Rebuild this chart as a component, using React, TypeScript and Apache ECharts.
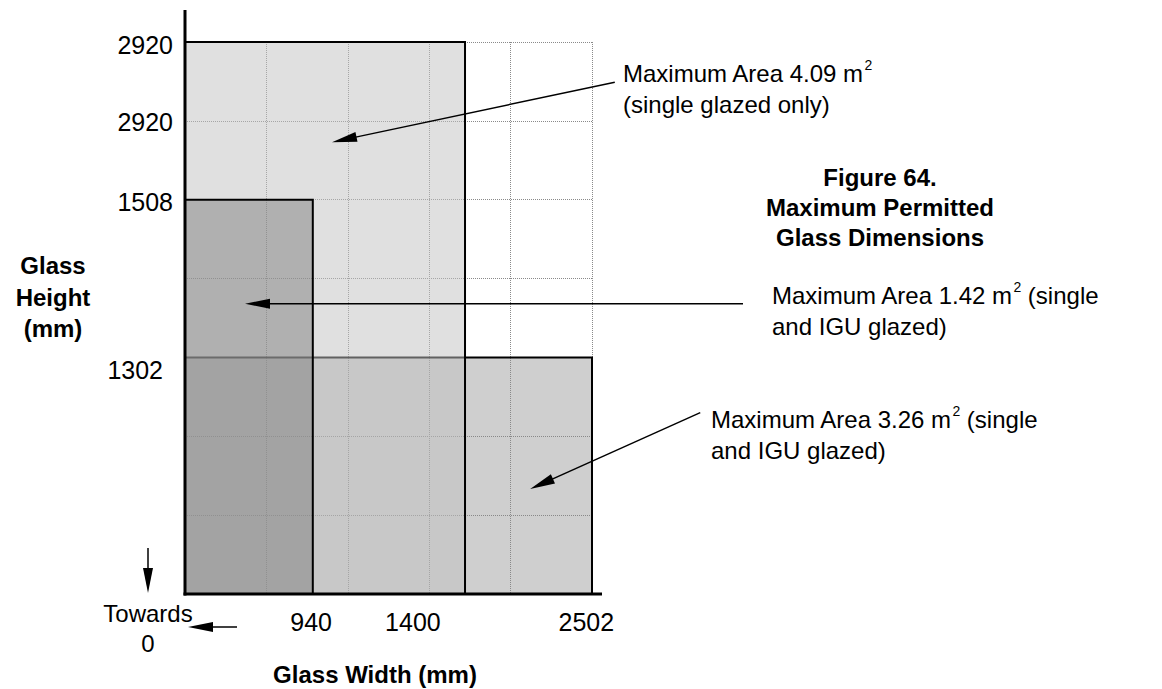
import React, { useEffect, useRef } from "react";
import * as echarts from "echarts";

// Schematic grid units (5 columns x 7 rows of the dotted grid)
const gridCols = 5;
const gridRows = 7;

// Width tick labels and their schematic positions
const widthLabels = ["940", "1400", "2502"];
const widthTickPos = [1.55, 2.8, 4.93];

// Height tick labels and their schematic positions
const heightLabels = ["2920", "2920", "1508", "1302"];
const heightTickPos = [6.96, 5.98, 4.97, 2.84];

// Rectangles (maximum areas), drawn in this order
const areaNames = ["Maximum Area 3.26 m²", "Maximum Area 4.09 m²", "Maximum Area 1.42 m²"];
const areaRight = [5, 3.44, 1.57];
const areaTop = [3, 7, 5];

const areaFills = ["rgba(135,135,135,0.4)", "rgba(193,193,193,0.5)", "rgba(119,119,119,0.458)"];

const FONT = "'Liberation Sans', Arial, sans-serif";

function nearestIdx(arr: number[], v: number) {
  let best = 0;
  for (let i = 1; i < arr.length; i++) if (Math.abs(arr[i] - v) < Math.abs(arr[best] - v)) best = i;
  return best;
}

function arrow(tail: number[], tip: number[], len = 25, hw = 5, lw = 1.5) {
  const dx = tip[0] - tail[0];
  const dy = tip[1] - tail[1];
  const L = Math.hypot(dx, dy);
  const ux = dx / L, uy = dy / L;
  const bx = tip[0] - ux * len, by = tip[1] - uy * len;
  const nx = -uy, ny = ux;
  return [
    { type: "line", z: 100, shape: { x1: tail[0], y1: tail[1], x2: bx + ux * 2, y2: by + uy * 2 }, style: { stroke: "#000", lineWidth: lw } },
    {
      type: "polygon",
      z: 100,
      shape: { points: [tip, [bx + nx * hw, by + ny * hw], [bx - nx * hw, by - ny * hw]] },
      style: { fill: "#000" },
    },
  ];
}

export default function App() {
  const ref = useRef<HTMLDivElement>(null);

  useEffect(() => {
    if (!ref.current) return;
    const chart = echarts.init(ref.current, null, { renderer: "svg" });
    const data = areaNames.map((n, i) => ({ name: n, value: [0, areaRight[i], 0, areaTop[i]] }));
    chart.setOption({
      animation: false,
      backgroundColor: "#fff",
      grid: { left: 185, right: 570, top: 42, bottom: 95, containLabel: false },
      xAxis: {
        type: "value",
        min: 0,
        max: gridCols,
        interval: 1,
        axisLine: { show: false },
        axisTick: { show: false },
        splitLine: { show: true, lineStyle: { color: "#8a8a8a", type: "dotted", width: 1 } },
        axisLabel: {
          customValues: widthTickPos,
          formatter: (v: number) => widthLabels[nearestIdx(widthTickPos, v)],
          fontSize: 25,
          fontFamily: FONT,
          color: "#000",
          margin: 15,
        },
      },
      yAxis: {
        type: "value",
        min: 0,
        max: gridRows,
        interval: 1,
        axisLine: { show: false },
        axisTick: { show: false },
        splitLine: { show: true, lineStyle: { color: "#8a8a8a", type: "dotted", width: 1 } },
        axisLabel: {
          customValues: heightTickPos,
          formatter: (v: number) => {
            const i = nearestIdx(heightTickPos, v);
            return i === heightLabels.length - 1 ? `{p|${heightLabels[i]}}` : `{n|${heightLabels[i]}}`;
          },
          rich: {
            n: { fontSize: 25, fontFamily: FONT, color: "#000" },
            p: { fontSize: 25, fontFamily: FONT, color: "#000", padding: [0, 10, 0, 0] },
          },
          margin: 12,
        },
      },
      series: [
        {
          type: "custom",
          data,
          renderItem: (params: any, api: any) => {
            const i = params.dataIndex;
            const p0 = api.coord([api.value(0), api.value(3)]);
            const p1 = api.coord([api.value(1), api.value(2)]);
            return {
              type: "rect",
              shape: { x: p0[0], y: p0[1], width: p1[0] - p0[0], height: p1[1] - p0[1] },
              style: { fill: areaFills[i], stroke: "#000", lineWidth: 2 },
            };
          },
        },
      ],
    });

    const px = (x: number, y: number) => chart.convertToPixel({ gridIndex: 0 }, [x, y]) as number[];
    const origin = px(0, 0);
    const right = px(gridCols, 0);

    const textStyle = (text: string, rich?: any, extra: any = {}) => ({
      text,
      fontSize: 24,
      fontFamily: FONT,
      fill: "#000",
      lineHeight: 31,
      rich,
      ...extra,
    });
    const annRich = {
      n: { fontSize: 24, fontFamily: FONT, fill: "#000", color: "#000", lineHeight: 31 },
      s: { fontSize: 14, fontFamily: FONT, fill: "#000", color: "#000", verticalAlign: "top", lineHeight: 31 },
    };

    const graphics: any[] = [
      // axis lines
      { type: "line", z: 100, shape: { x1: origin[0], y1: 10, x2: origin[0], y2: origin[1] + 1.5 }, style: { stroke: "#000", lineWidth: 3 } },
      { type: "line", z: 100, shape: { x1: origin[0] - 1.5, y1: origin[1], x2: right[0] + 10, y2: origin[1] }, style: { stroke: "#000", lineWidth: 3 } },
      // leader arrows
      ...arrow(px(5.28, 6.49), px(1.806, 5.73)),
      ...arrow(px(6.855, 3.68), px(0.737, 3.68)),
      ...arrow(px(6.33, 2.3), px(4.24, 1.33)),
      // towards 0 arrows
      ...arrow([148, 548], [148, 593], 25, 5, 1.5),
      ...arrow([237, 627], [188, 627], 25, 5, 1.5),
      // texts
      {
        type: "text", z: 100, x: 148, y: 598,
        style: textStyle("Towards\n0", undefined, { align: "center", verticalAlign: "top", fontSize: 24, lineHeight: 30 }),
      },
      {
        type: "text", z: 100, x: 53, y: 250,
        style: textStyle("Glass\nHeight\n(mm)", undefined, { align: "center", verticalAlign: "top", fontWeight: "bold", lineHeight: 31.5 }),
      },
      {
        type: "text", z: 100, x: 375, y: 674,
        style: textStyle("Glass Width (mm)", undefined, { align: "center", verticalAlign: "middle", fontWeight: "bold" }),
      },
      {
        type: "text", z: 100, x: 880, y: 162,
        style: textStyle("Figure 64.\nMaximum Permitted\nGlass Dimensions", undefined, { align: "center", verticalAlign: "top", fontWeight: "bold", lineHeight: 30 }),
      },
      {
        type: "text", z: 100, x: 623, y: 58,
        style: textStyle("{n|Maximum Area 4.09 m}{s|2}\n{n|(single glazed only)}", annRich, { align: "left", verticalAlign: "top" }),
      },
      {
        type: "text", z: 100, x: 772, y: 280,
        style: textStyle("{n|Maximum Area 1.42 m}{s|2}{n| (single}\n{n|and IGU glazed)}", annRich, { align: "left", verticalAlign: "top" }),
      },
      {
        type: "text", z: 100, x: 711, y: 404,
        style: textStyle("{n|Maximum Area 3.26 m}{s|2}{n| (single}\n{n|and IGU glazed)}", annRich, { align: "left", verticalAlign: "top" }),
      },
    ];
    chart.setOption({ graphic: graphics });

    return () => chart.dispose();
  }, []);

  return (
    <div
      ref={ref}
      style={{ position: "absolute", left: 0, top: 0, width: 1162, height: 689, background: "#fff" }}
    />
  );
}
